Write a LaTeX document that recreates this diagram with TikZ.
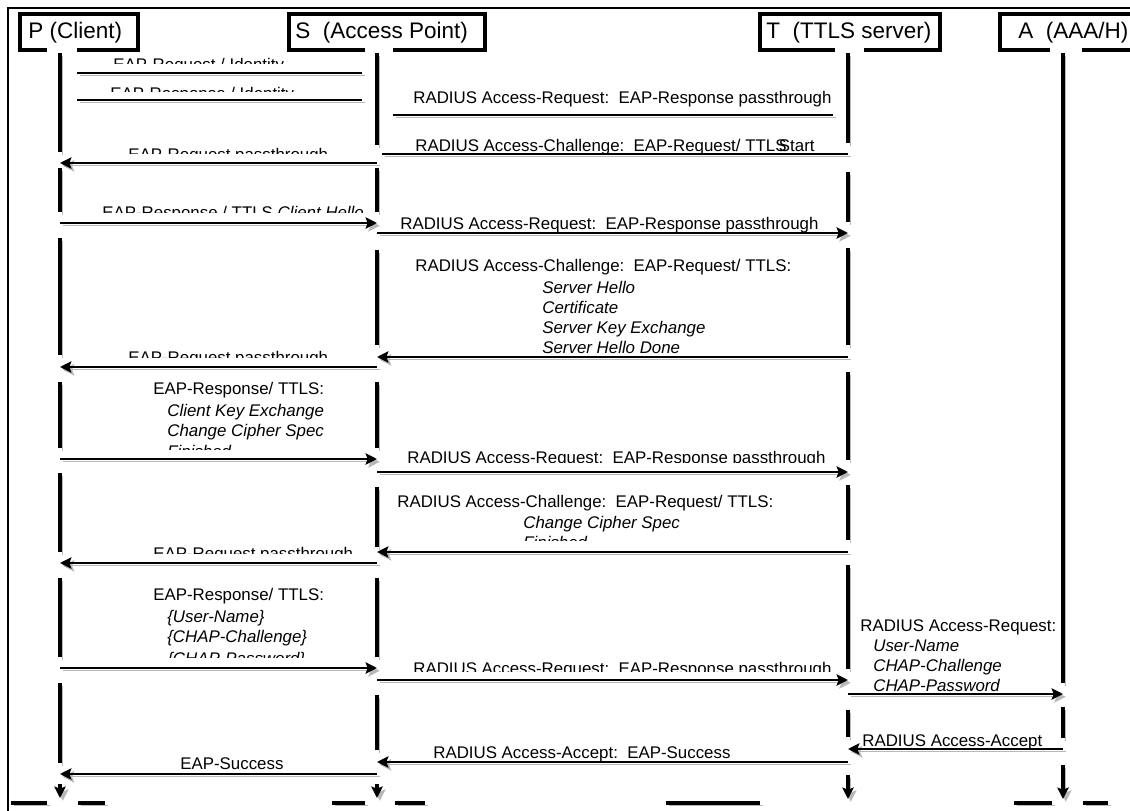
\documentclass[tikz,border=0pt]{standalone}
\usepackage{fontspec}
\setmainfont{Liberation Sans}
\usetikzlibrary{arrows.meta}
\frenchspacing

\tikzset{
  shd/.style={preaction={draw=black!28,transform canvas={shift={(1.6pt,-1.6pt)}}}},
  frame/.style={line width=1.5pt},
  box/.style={line width=2.2pt},
  life/.style={line width=2pt,shd},
  tip/.style={life,-{Stealth[length=6.5pt,width=6.5pt,inset=1.2pt]}},
  rule/.style={line width=1.5pt,shd},
  msg/.style={rule,-{Stealth[length=6.5pt,width=6.5pt,inset=1.2pt]}},
  bar/.style={line width=2.8pt,shd},
  hd/.style={font=\fontsize{12.8}{15}\selectfont,anchor=base west,inner sep=0pt},
  lbl/.style={font=\fontsize{9.6}{11.3}\selectfont,anchor=base west,inner sep=0pt},
  itl/.style={lbl,font=\fontsize{9.6}{11.3}\selectfont\itshape},
}

\begin{document}
\begin{tikzpicture}[x=0.02cm,y=-0.02cm]
  \useasboundingbox (0,0) rectangle (1130,811);
  \clip (0,0) rectangle (1130,811);
  % frame and heads
  \draw[frame] (8,811) -- (8,8) -- (1130,8);
  \draw[box] (47,50) -| (20,14) -| (138,50) -- (77,50);
  \draw[box] (365,50) -| (289,14) -| (485,50) -- (393,50);
  \draw[box] (835,50) -| (760,14) -| (940,50) -- (864,50);
  \draw[box] (1050,50) -| (1000,14) -- (1140,14);
  \draw[box] (1082,50) -- (1140,50);
  \node[hd] (cli) at (28,39) {P (Client)};
  \node[hd] (ap) at (295,39) {S\ \ (Access Point)};
  \node[hd] (srv) at (766,39) {T\ \ (TTLS server)};
  \node[hd] (aaa) at (1018,39) {A\ \ (AAA/H)};
  % lifelines
  \coordinate (p) at (60,53);
  \coordinate (s) at (377,53);
  \coordinate (t) at (848,53);
  \coordinate (a) at (1063,53);
  \foreach \u/\v in {53/152,168/212,238/355,382/448,473/552,578/657,683/763}
    \draw[life] (p |- 0,\u) -- (p |- 0,\v);
  \foreach \u/\v in {53/145,168/212,250/345,382/448,487/547,578/657,695/750}
    \draw[life] (s |- 0,\u) -- (s |- 0,\v);
  \foreach \u/\v in {53/143,172/222,248/345,372/460,485/540,565/669,710/737}
    \draw[life] (t |- 0,\u) -- (t |- 0,\v);
  \foreach \u/\v in {53/683,707/738}
    \draw[life] (a |- 0,\u) -- (a |- 0,\v);
  \draw[tip] (p |- 0,784) -- (p |- 0,798);
  \draw[tip] (s |- 0,784) -- (s |- 0,798);
  \draw[tip] (t |- 0,775) -- (t |- 0,799);
  \draw[tip] (a |- 0,765) -- (a |- 0,799);
  \foreach \u/\v in {11/47,78/105,332/365,395/425,666/760,1014/1052,1083/1108}
    \draw[bar] (\u,803) -- (\v,803);
  % messages
  \draw[rule,shorten <=9.6pt,shorten >=8.5pt] (p |- 0,73) -- (s |- 0,73);
  \draw[rule,shorten <=9.6pt,shorten >=8.5pt] (p |- 0,100) -- (s |- 0,100);
  \draw[rule,shorten <=9pt,shorten >=8.5pt] (s |- 0,115) -- (t |- 0,115);
  \draw[rule,shorten >=2.8pt] (t |- 0,154) -- (s |- 0,154);
  \foreach \f/\g/\y in {s/p/163,p/s/223,s/t/233,t/s/357,s/p/367,p/s/459,s/t/472,
      t/s/552,s/p/563,p/s/668,s/t/680,t/a/694,a/t/749,t/s/762,s/p/774}
    \draw[msg] (\f |- 0,\y) -- (\g |- 0,\y);
  % labels
  \begin{scope}
    \clip (100,55) rectangle (300,64);
    \node[lbl] (l1) at (113,70.5) {EAP-Request / Identity};
  \end{scope}
  \begin{scope}
    \clip (100,84) rectangle (300,92);
    \node[lbl] (l2) at (110,99.5) {EAP-Response / Identity};
  \end{scope}
  \node[lbl] (l3) at (413,104) {RADIUS Access-Request:\ \ EAP-Response passthrough};
  \node[lbl] (l4) at (415,152) {RADIUS Access-Challenge:\ \ EAP-Request/ TTLS\kern-.45em Start};
  \begin{scope}
    \clip (120,140) rectangle (340,154);
    \node[lbl] (l5) at (128,160.5) {EAP-Request passthrough};
  \end{scope}
  \begin{scope}
    \clip (95,198) rectangle (365,212);
    \node[lbl] (l6) at (102,218.5) {EAP-Response / TTLS \textit{Client Hello}};
  \end{scope}
  \node[lbl] (l7) at (400,230) {RADIUS Access-Request:\ \ EAP-Response passthrough};
  \node[lbl] (l8) at (415,272) {RADIUS Access-Challenge:\ \ EAP-Request/ TTLS:};
  \foreach \y/\s in {293/Server Hello,313/Certificate,333/Server Key Exchange,353/Server Hello Done}
    \node[itl] (l8-\y) at (542,\y) {\s};
  \begin{scope}
    \clip (120,343) rectangle (340,357);
    \node[lbl] (l9) at (128,363.5) {EAP-Request passthrough};
  \end{scope}
  \node[lbl] (l10) at (153,394) {EAP-Response/ TTLS:};
  \foreach \y/\s in {416/Client Key Exchange,436/Change Cipher Spec}
    \node[itl] (l10-\y) at (167,\y) {\s};
  \begin{scope}
    \clip (160,440) rectangle (260,449);
    \node[itl] (l10-fin) at (167,457.5) {Finished};
  \end{scope}
  \begin{scope}
    \clip (400,445) rectangle (840,462);
    \node[lbl] (l11) at (407,463.5) {RADIUS Access-Request:\ \ EAP-Response passthrough};
  \end{scope}
  \node[lbl] (l12) at (397,507) {RADIUS Access-Challenge:\ \ EAP-Request/ TTLS:};
  \node[itl] (l12-ccs) at (523,528) {Change Cipher Spec};
  \begin{scope}
    \clip (515,530) rectangle (620,540);
    \node[itl] (l12-fin) at (523,548) {Finished};
  \end{scope}
  \begin{scope}
    \clip (145,540) rectangle (365,553);
    \node[lbl] (l13) at (153,559.5) {EAP-Request passthrough};
  \end{scope}
  \node[lbl] (l14) at (153,600) {EAP-Response/ TTLS:};
  \foreach \y/\s in {622/\{User-Name\},642/\{CHAP-Challenge\}}
    \node[itl] (l14-\y) at (167,\y) {\s};
  \begin{scope}
    \clip (160,645) rectangle (320,657);
    \node[itl] (l14-pw) at (167,664.5) {\{CHAP-Password\}};
  \end{scope}
  \begin{scope}
    \clip (405,655) rectangle (840,671);
    \node[lbl] (l15) at (413,674.5) {RADIUS Access-Request:\ \ EAP-Response passthrough};
  \end{scope}
  \node[lbl] (l16) at (860,631) {RADIUS Access-Request:};
  \foreach \y/\s in {651/User-Name,671/CHAP-Challenge,691/CHAP-Password}
    \node[itl] (l16-\y) at (873,\y) {\s};
  \node[lbl] (l17) at (862,746) {RADIUS Access-Accept};
  \node[lbl] (l18) at (433,758) {RADIUS Access-Accept:\ \ EAP-Success};
  \node[lbl] (l19) at (180,769) {EAP-Success};
\end{tikzpicture}
\end{document}
